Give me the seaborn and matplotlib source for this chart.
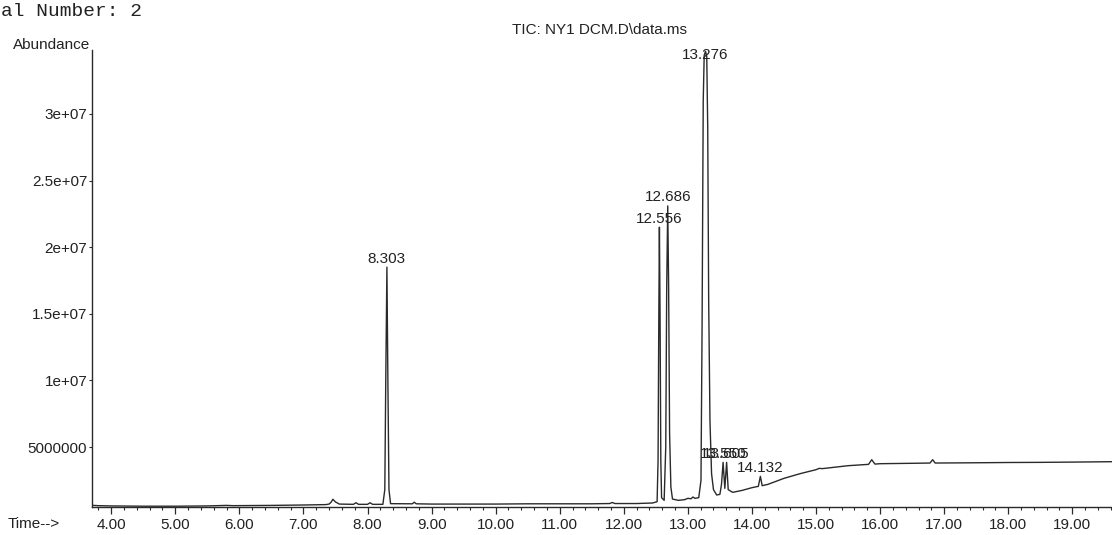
import numpy as np
import matplotlib
matplotlib.use("Agg")
import matplotlib.pyplot as plt
import matplotlib.transforms as mtransforms
from matplotlib.ticker import MultipleLocator, FixedLocator
import seaborn as sns

# ---- data (time in min, abundance in millions) ----
time_min = [3.72, 3.80, 4.00, 4.50, 5.00, 5.50, 5.80, 5.90, 6.50, 7.00, 7.35,
            7.40, 7.43, 7.46, 7.50, 7.56, 7.78, 7.82, 7.86, 8.00, 8.04, 8.08,
            8.24, 8.27, 8.285, 8.303, 8.318, 8.335, 8.36, 8.70, 8.73, 8.76,
            9.00, 10.00, 10.50, 11.00, 11.50, 11.78, 11.82, 11.86, 12.20, 12.45,
            12.52, 12.535, 12.547, 12.556, 12.566, 12.578, 12.59, 12.63, 12.655,
            12.670, 12.686, 12.700, 12.715, 12.735, 12.76, 12.85, 12.95, 13.00,
            13.05, 13.08, 13.11, 13.17, 13.205, 13.222, 13.24, 13.255, 13.276,
            13.295, 13.31, 13.325, 13.345, 13.37, 13.40, 13.45, 13.50, 13.525,
            13.55, 13.577, 13.605, 13.63, 13.70, 13.85, 14.00, 14.10, 14.132,
            14.16, 14.25, 14.50, 14.75, 15.00, 15.05, 15.10, 15.50, 15.82, 15.87,
            15.92, 16.00, 16.50, 16.78, 16.82, 16.86, 17.50, 18.00, 18.50, 19.00,
            19.62]
abund_m = [0.62, 0.60, 0.58, 0.56, 0.56, 0.58, 0.62, 0.60, 0.62, 0.65, 0.68,
           0.72, 0.85, 1.08, 0.88, 0.72, 0.70, 0.82, 0.70, 0.70, 0.82, 0.70,
           0.70, 1.80, 10.0, 18.5, 10.0, 1.80, 0.75, 0.74, 0.86, 0.74,
           0.72, 0.72, 0.74, 0.74, 0.74, 0.76, 0.84, 0.76, 0.76, 0.80,
           0.90, 4.0, 15.0, 21.5, 15.0, 4.0, 1.2, 1.0, 5.0,
           17.0, 23.1, 17.0, 6.0, 2.0, 1.1, 1.0, 1.05, 1.15,
           1.12, 1.25, 1.15, 1.2, 2.5, 14.0, 31.0, 34.4, 34.7,
           34.3, 29.0, 16.0, 7.0, 3.0, 1.8, 1.40, 1.45, 2.2,
           3.85, 1.9, 3.85, 1.8, 1.6, 1.75, 1.95, 2.05, 2.8,
           2.1, 2.2, 2.65, 3.0, 3.3, 3.4, 3.38, 3.6, 3.7, 4.05,
           3.72, 3.75, 3.78, 3.8, 4.05, 3.8, 3.82, 3.84, 3.85, 3.87,
           3.9]
peak_rt = [8.303, 12.556, 12.686, 13.276, 13.550, 13.605, 14.132]
peak_labels = ["8.303", "12.556", "12.686", "13.276", "13.550", "13.605", "14.132"]
x_ticks = [4, 5, 6, 7, 8, 9, 10, 11, 12, 13, 14, 15, 16, 17, 18, 19]
y_ticks = [5e6, 1e7, 1.5e7, 2e7, 2.5e7, 3e7]
y_tick_labels = ["5000000", "1e+07", "1.5e+07", "2e+07", "2.5e+07", "3e+07"]
title = "TIC: NY1 DCM.D\\data.ms"
header = "al Number: 2"

abundance = np.array(abund_m) * 1e6

sns.set_theme(style="white")
plt.rcParams["font.family"] = ["Liberation Sans", "DejaVu Sans"]

fig = plt.figure(figsize=(11.12, 5.35), dpi=100)
ax = fig.add_axes([92 / 1112, 28 / 535, 1 - 92 / 1112, 457 / 535])

ink = "#2a2a2a"
sns.lineplot(x=time_min, y=abundance, ax=ax, color=ink, linewidth=1.0,
             estimator=None, sort=False)

ax.set_xlim(3.70, 19.62)
ax.set_ylim(0.5e6, 34.8e6)

for s in ["top", "right"]:
    ax.spines[s].set_visible(False)
for s in ["left", "bottom"]:
    ax.spines[s].set_color(ink)
    ax.spines[s].set_linewidth(1.0)

ax.xaxis.set_major_locator(FixedLocator(x_ticks))
ax.xaxis.set_minor_locator(MultipleLocator(0.2))
ax.set_xticklabels([f"{v:.2f}" for v in x_ticks])
ax.yaxis.set_major_locator(FixedLocator(y_ticks))
ax.set_yticklabels(y_tick_labels)
ax.tick_params(axis="x", which="major", direction="out", length=5, width=0.9,
               color=ink, labelsize=11, labelcolor="#222222", pad=3, bottom=True)
ax.tick_params(axis="x", which="minor", direction="out", length=2.5, width=0.8,
               color=ink, bottom=True)
ax.tick_params(axis="y", which="major", direction="out", length=2.5, width=0.8,
               color=ink, labelsize=11, labelcolor="#222222", pad=1, left=True)
ax.set_xlabel("")
ax.set_ylabel("")
ax.grid(False)

# peak labels
lookup = dict(zip(time_min, abundance))
ytop = ax.get_ylim()[1]
blend = mtransforms.blended_transform_factory(ax.transData, ax.transAxes)
for rt, lab in zip(peak_rt, peak_labels):
    h = lookup[rt]
    if h > 0.95 * ytop:
        ax.text(rt, 1.005, lab, transform=blend, ha="center", va="top",
                fontsize=11, color="#222222", clip_on=False)
    else:
        ax.annotate(lab, xy=(rt, h), xytext=(0, 1), textcoords="offset points",
                    ha="center", va="bottom", fontsize=11, color="#222222",
                    annotation_clip=False)

fig.text(600 / 1112, 1 - 30 / 535, title, ha="center", va="center",
         fontsize=11, color="#222222")
fig.text(90 / 1112, 1 - 45 / 535, "Abundance", ha="right", va="center",
         fontsize=11, color="#222222")
fig.text(8 / 1112, 1 - 524 / 535, "Time-->", ha="left", va="center",
         fontsize=11, color="#222222")
fig.text(1 / 1112, 1 - 11 / 535, header, ha="left", va="center",
         fontsize=14, color="#222222", family=["Liberation Mono", "DejaVu Sans Mono"])

fig.savefig("out.png", dpi=100, facecolor="white")
